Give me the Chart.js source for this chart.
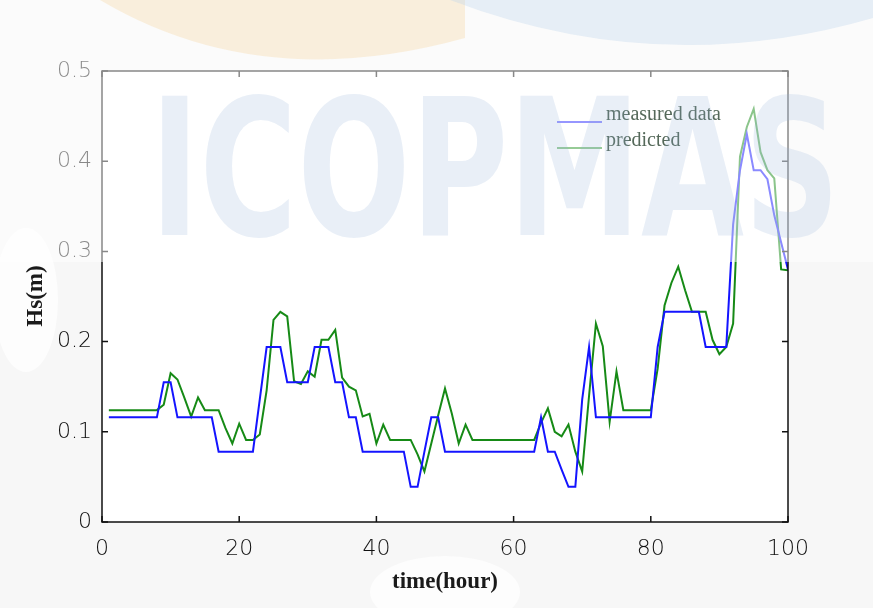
<!DOCTYPE html>
<html>
<head>
<meta charset="utf-8">
<script src="https://cdn.jsdelivr.net/npm/chart.js@4.4.1/dist/chart.umd.min.js"></script>
<style>
  html, body { margin: 0; padding: 0; background: #f7f7f7; }
  #wrap { width: 873px; height: 608px; }
</style>
</head>
<body>
<div id="wrap"><canvas id="chart" width="873" height="608"></canvas></div>
<script>
// hourly values, t = 1..100
const measured = [
  0.116, 0.116, 0.116, 0.116, 0.116, 0.116, 0.116, 0.116, 0.155, 0.155,
  0.116, 0.116, 0.116, 0.116, 0.116, 0.116, 0.078, 0.078, 0.078, 0.078,
  0.078, 0.078, 0.136, 0.194, 0.194, 0.194, 0.155, 0.155, 0.155, 0.155,
  0.194, 0.194, 0.194, 0.155, 0.155, 0.116, 0.116, 0.078, 0.078, 0.078,
  0.078, 0.078, 0.078, 0.078, 0.039, 0.039, 0.078, 0.116, 0.116, 0.078,
  0.078, 0.078, 0.078, 0.078, 0.078, 0.078, 0.078, 0.078, 0.078, 0.078,
  0.078, 0.078, 0.078, 0.116, 0.078, 0.078, 0.058, 0.039, 0.039, 0.136,
  0.194, 0.116, 0.116, 0.116, 0.116, 0.116, 0.116, 0.116, 0.116, 0.116,
  0.194, 0.233, 0.233, 0.233, 0.233, 0.233, 0.233, 0.194, 0.194, 0.194,
  0.194, 0.33, 0.39, 0.43, 0.39, 0.39, 0.38, 0.34, 0.31, 0.28
];
const predicted = [
  0.124, 0.124, 0.124, 0.124, 0.124, 0.124, 0.124, 0.124, 0.13, 0.165,
  0.158, 0.138, 0.117, 0.138, 0.124, 0.124, 0.124, 0.104, 0.087, 0.109,
  0.091, 0.091, 0.097, 0.146, 0.224, 0.233, 0.228, 0.156, 0.153, 0.167,
  0.161, 0.202, 0.202, 0.213, 0.16, 0.15, 0.146, 0.117, 0.12, 0.087,
  0.108, 0.091, 0.091, 0.091, 0.091, 0.075, 0.056, 0.087, 0.118, 0.148,
  0.12, 0.087, 0.108, 0.091, 0.091, 0.091, 0.091, 0.091, 0.091, 0.091,
  0.091, 0.091, 0.091, 0.11, 0.126, 0.1, 0.095, 0.108, 0.078, 0.056,
  0.14, 0.22, 0.195, 0.111, 0.167, 0.124, 0.124, 0.124, 0.124, 0.124,
  0.17, 0.24, 0.265, 0.283, 0.257, 0.233, 0.233, 0.233, 0.202, 0.186,
  0.194, 0.22, 0.405, 0.438, 0.458, 0.41, 0.39, 0.381, 0.28, 0.279
];
const xTicks = [0, 20, 40, 60, 80, 100];
const yTicks = [0, 0.1, 0.2, 0.3, 0.4, 0.5];
const seriesNames = ['measured data', 'predicted'];
const seriesColors = ['#1414ff', '#168a16'];
const xTitle = 'time(hour)';
const yTitle = 'Hs(m)';
const watermark = 'ICOPMAS';

const toPoints = (values) => values.map((v, i) => ({ x: i + 1, y: v }));
const tickFont = { family: '"DejaVu Sans"', size: 22, weight: '200' };

const decor = {
  id: 'decor',
  beforeDraw(chart) {
    const { ctx, chartArea: a } = chart;
    ctx.save();
    // soft white patches behind the axis titles
    ctx.fillStyle = '#fdfdfd';
    ctx.beginPath();
    ctx.ellipse(26, 300, 32, 72, 0, 0, Math.PI * 2);
    ctx.fill();
    ctx.beginPath();
    ctx.ellipse(445, 592, 75, 36, 0, 0, Math.PI * 2);
    ctx.fill();
    ctx.fillStyle = '#ffffff';
    ctx.fillRect(a.left, a.top, a.right - a.left, a.bottom - a.top);
    ctx.restore();
  },
  afterDraw(chart) {
    const { ctx, chartArea: a, scales } = chart;
    ctx.save();
    ctx.strokeStyle = '#111';
    ctx.lineWidth = 1.5;
    ctx.strokeRect(a.left, a.top, a.right - a.left, a.bottom - a.top);
    ctx.beginPath();
    xTicks.forEach((v) => {
      const px = scales.x.getPixelForValue(v);
      ctx.moveTo(px, a.bottom); ctx.lineTo(px, a.bottom - 6);
      ctx.moveTo(px, a.top); ctx.lineTo(px, a.top + 6);
    });
    yTicks.forEach((v) => {
      const py = scales.y.getPixelForValue(v);
      ctx.moveTo(a.left, py); ctx.lineTo(a.left + 6, py);
      ctx.moveTo(a.right, py); ctx.lineTo(a.right - 6, py);
    });
    ctx.stroke();

    // faded upper band of the scanned figure
    ctx.fillStyle = 'rgba(255,255,255,0.5)';
    ctx.fillRect(0, 0, chart.width, 262);

    // axis titles
    ctx.fillStyle = '#1a1a1a';
    ctx.font = 'bold 23px "Liberation Serif"';
    ctx.textAlign = 'center';
    ctx.textBaseline = 'middle';
    ctx.fillText(xTitle, 445, 582);
    ctx.save();
    ctx.translate(36, 296);
    ctx.rotate(-Math.PI / 2);
    ctx.fillText(yTitle, 0, 0);
    ctx.restore();

    // legend
    ctx.textAlign = 'left';
    ctx.textBaseline = 'alphabetic';
    ctx.font = '20px "Liberation Serif"';
    seriesNames.forEach((name, i) => {
      const y = 122 + i * 26;
      ctx.strokeStyle = seriesColors[i];
      ctx.globalAlpha = 0.6;
      ctx.lineWidth = 1.5;
      ctx.beginPath();
      ctx.moveTo(557, y); ctx.lineTo(602, y);
      ctx.stroke();
      ctx.globalAlpha = 1;
      ctx.fillStyle = '#55695a';
      ctx.fillText(name, 606, y - 2);
    });

    // logo watermark
    ctx.fillStyle = 'rgba(245,205,140,0.28)';
    ctx.beginPath();
    ctx.moveTo(100, 0);
    ctx.quadraticCurveTo(260, 95, 465, 38);
    ctx.lineTo(465, 0);
    ctx.closePath();
    ctx.fill();
    ctx.fillStyle = 'rgba(190,212,236,0.35)';
    ctx.beginPath();
    ctx.moveTo(450, 0);
    ctx.quadraticCurveTo(660, 80, 873, 18);
    ctx.lineTo(873, 0);
    ctx.closePath();
    ctx.fill();

    ctx.font = 'bold 190px "DejaVu Sans"';
    const w = ctx.measureText(watermark).width;
    ctx.fillStyle = 'rgba(143,176,216,0.2)';
    ctx.translate(150, 235);
    ctx.scale(690 / w, 1);
    ctx.fillText(watermark, 0, 0);
    ctx.restore();
  }
};

new Chart(document.getElementById('chart'), {
  type: 'line',
  data: {
    datasets: [
      { label: seriesNames[0], data: toPoints(measured), borderColor: seriesColors[0], borderWidth: 2, pointRadius: 0, tension: 0 },
      { label: seriesNames[1], data: toPoints(predicted), borderColor: seriesColors[1], borderWidth: 2, pointRadius: 0, tension: 0 }
    ]
  },
  options: {
    responsive: false,
    animation: false,
    devicePixelRatio: 1,
    layout: { padding: { top: 71, right: 85, left: 0, bottom: 0 } },
    plugins: { legend: { display: false }, tooltip: { enabled: false } },
    scales: {
      x: {
        type: 'linear',
        min: 0,
        max: 100,
        afterBuildTicks: (scale) => { scale.ticks = xTicks.map((v) => ({ value: v })); },
        afterFit: (scale) => { scale.height = 86; },
        grid: { display: false, drawTicks: false },
        border: { display: false },
        ticks: { font: tickFont, color: '#111', padding: 14, maxRotation: 0 }
      },
      y: {
        min: 0,
        max: 0.5,
        afterBuildTicks: (scale) => { scale.ticks = yTicks.map((v) => ({ value: v })); },
        afterFit: (scale) => { scale.width = 102; },
        grid: { display: false, drawTicks: false },
        border: { display: false },
        ticks: { font: tickFont, color: '#111', padding: 10, callback: (v) => String(Math.round(v * 10) / 10) }
      }
    }
  },
  plugins: [decor]
});
</script>
</body>
</html>
